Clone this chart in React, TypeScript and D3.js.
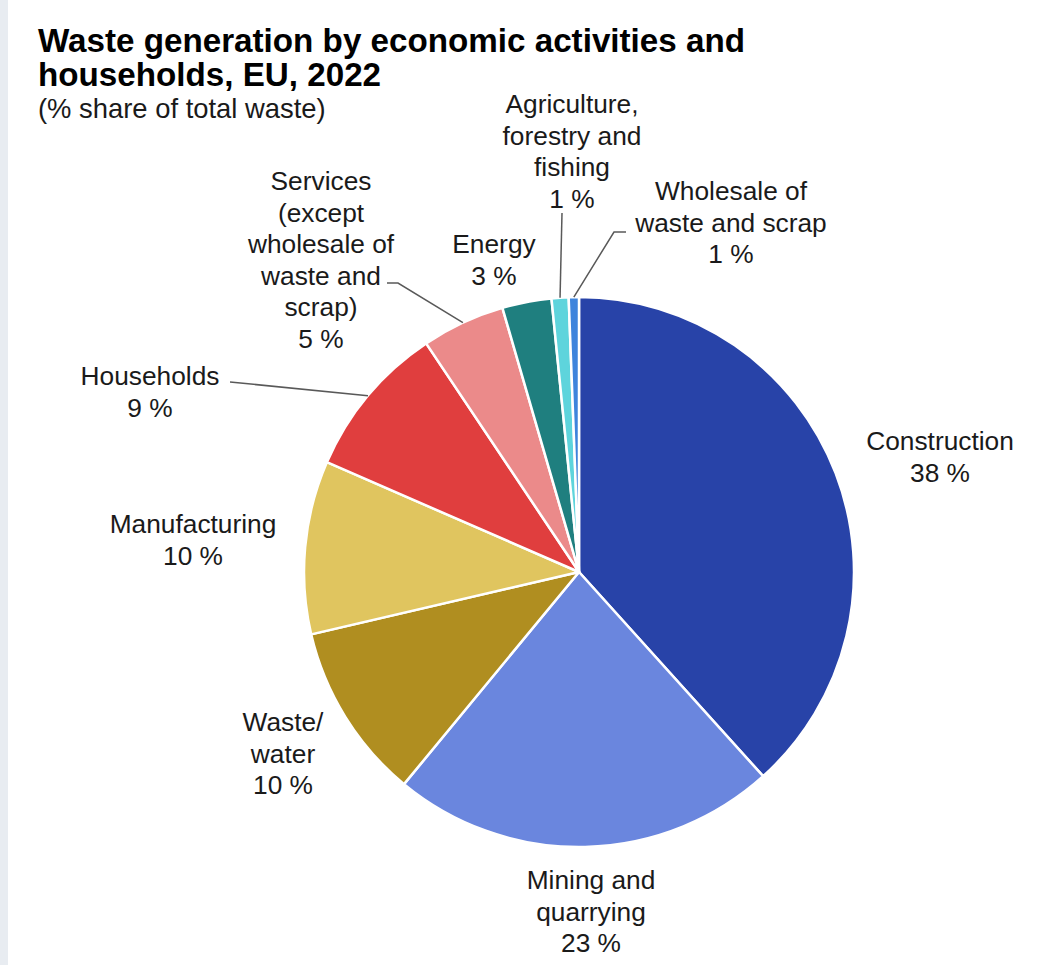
import React from "react";
import * as d3 from "d3";

const categories = [
  "Construction",
  "Mining and quarrying",
  "Waste/ water",
  "Manufacturing",
  "Households",
  "Services (except wholesale of waste and scrap)",
  "Energy",
  "Agriculture, forestry and fishing",
  "Wholesale of waste and scrap",
];
const shares = [38.4, 22.7, 10.4, 10.2, 9.1, 4.9, 2.9, 1.0, 0.6];
const displayLabels = ["38 %", "23 %", "10 %", "10 %", "9 %", "5 %", "3 %", "1 %", "1 %"];
const labelLines = [
  ["Construction"],
  ["Mining and", "quarrying"],
  ["Waste/", "water"],
  ["Manufacturing"],
  ["Households"],
  ["Services", "(except", "wholesale of", "waste and", "scrap)"],
  ["Energy"],
  ["Agriculture,", "forestry and", "fishing"],
  ["Wholesale of", "waste and scrap"],
];

const colors = [
  "#2843a8",
  "#6a86de",
  "#b08e20",
  "#e0c55f",
  "#e03e3e",
  "#eb8a8a",
  "#1f7f7f",
  "#5ed4dc",
  "#3e84dc",
];

// layout (positions of label blocks: center x, first baseline y)
const W = 1037;
const H = 965;
const CX = 579;
const CY = 572;
const R = 275;
const LINE_H = 31.5;
const labelPos: { x: number; y: number; leader?: [number, number][] }[] = [
  { x: 940, y: 450 },
  { x: 591, y: 889 },
  { x: 283, y: 731 },
  { x: 193, y: 533 },
  { x: 150, y: 385, leader: [[230, 382]] },
  { x: 321, y: 190, leader: [[387, 283], [398, 283]] },
  { x: 494, y: 253 },
  { x: 572, y: 113, leader: [[562, 213]] },
  { x: 731, y: 200, leader: [[626, 232], [614, 232]] },
];

export default function App() {
  const pie = d3
    .pie<number>()
    .sort(null)
    .value((d) => d)
    .startAngle(0)
    .endAngle(2 * Math.PI);
  const arcs = pie(shares);
  const arcGen = d3.arc<d3.PieArcDatum<number>>().innerRadius(0).outerRadius(R);
  const line = d3.line();

  return (
    <svg
      width={W}
      height={H}
      style={{ position: "absolute", left: 0, top: 0, background: "#ffffff" }}
      fontFamily="'Liberation Sans', Arial, sans-serif"
    >
      <rect x={0} y={0} width={8} height={H} fill="#e8ecf1" />
      <text x={38} y={52} fontSize={33.2} fontWeight="bold" fill="#000">
        Waste generation by economic activities and
      </text>
      <text x={38} y={86} fontSize={33.2} fontWeight="bold" fill="#000">
        households, EU, 2022
      </text>
      <text x={38} y={118} fontSize={27.4} fill="#1a1a1a">
        (% share of total waste)
      </text>

      <g transform={`translate(${CX},${CY})`}>
        {arcs.map((a, i) => (
          <path
            key={categories[i]}
            d={arcGen(a) || ""}
            fill={colors[i]}
            stroke="#ffffff"
            strokeWidth={2.5}
            strokeLinejoin="round"
          />
        ))}
      </g>

      {arcs.map((a, i) => {
        const lp = labelPos[i];
        if (!lp.leader) return null;
        const mid = (a.startAngle + a.endAngle) / 2;
        const ex = CX + R * Math.sin(mid);
        const ey = CY - R * Math.cos(mid);
        const pts: [number, number][] = [...lp.leader, [ex, ey]];
        return (
          <path
            key={"l" + i}
            d={line(pts) || ""}
            fill="none"
            stroke="#595959"
            strokeWidth={1.5}
          />
        );
      })}

      {arcs.map((a, i) => {
        const lp = labelPos[i];
        const lines = [...labelLines[i], displayLabels[i]];
        return (
          <text
            key={"t" + i}
            x={lp.x}
            y={lp.y}
            fontSize={26.3}
            textAnchor="middle"
            fill="#1a1a1a"
          >
            {lines.map((t, j) => (
              <tspan key={j} x={lp.x} y={lp.y + j * LINE_H}>
                {t}
              </tspan>
            ))}
          </text>
        );
      })}
    </svg>
  );
}
